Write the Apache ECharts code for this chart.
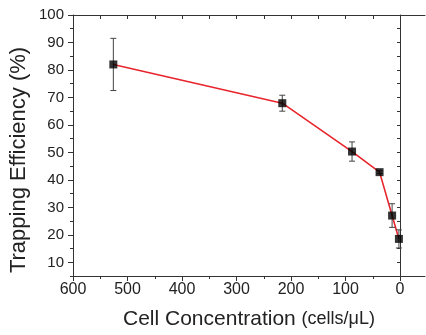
<!DOCTYPE html>
<html><head><meta charset="utf-8">
<script src="https://cdn.jsdelivr.net/npm/echarts@6/dist/echarts.min.js"></script>
<style>html,body{margin:0;padding:0;background:#fff}#c{width:426px;height:335px}</style>
</head><body><div id="c"></div>
<script>
const concentration = [526, 216, 88, 37.5, 14.5, 2];
const efficiency = [82, 67.9, 50.3, 42.8, 27, 18.5];
const errorBars = [9.5, 2.9, 3.5, 0.5, 4.3, 3.3];
const xTickLabels = [0, 100, 200, 300, 400, 500, 600];
const yTickLabels = [10, 20, 30, 40, 50, 60, 70, 80, 90, 100];

const FONT = 'Liberation Sans, Arial, sans-serif';
const AX = '#333';
const points = concentration.map((c, i) => [c, efficiency[i]]);
const errData = concentration.map((c, i) => [c, efficiency[i] - errorBars[i], efficiency[i] + errorBars[i]]);

const chart = echarts.init(document.getElementById('c'), null, {renderer: 'canvas'});
chart.setOption({
  animation: false,
  grid: [
    {left: 73, right: 26, top: 15, bottom: 59},
    {left: 73, right: 26, top: 15, bottom: 72.3},
    {left: 73, right: 1, top: 15, bottom: 59},
    {left: 73, right: 26, top: 60, bottom: 75}
  ],
  xAxis: [
    {gridIndex: 0, type: 'value', inverse: true, min: 0, max: 600, interval: 100,
     axisLine: {show: true, lineStyle: {color: AX, width: 1}},
     axisTick: {show: true, inside: false, length: 5, lineStyle: {color: AX}},
     minorTick: {show: true, splitNumber: 2, length: 3, lineStyle: {color: AX}},
     splitLine: {show: false},
     axisLabel: {show: true, margin: 6, fontFamily: FONT, fontSize: 16, color: '#222',
       formatter: v => xTickLabels.includes(v) ? String(v) : ''}},
    {gridIndex: 0, type: 'value', position: 'top', inverse: true, min: 0, max: 600, interval: 50,
     axisLine: {show: true, lineStyle: {color: AX, width: 1}},
     axisTick: {show: true, inside: true, length: 4, lineStyle: {color: AX}},
     splitLine: {show: false}, axisLabel: {show: false}},
    {gridIndex: 1, type: 'value', show: false, min: 0, max: 600},
    {gridIndex: 2, type: 'value', position: 'bottom', min: 0, max: 1,
     axisLine: {show: true, lineStyle: {color: AX, width: 1}},
     axisTick: {show: false}, splitLine: {show: false}, axisLabel: {show: false},
     name: '{a|Cell Concentration }{b|(cells/μL)}', nameLocation: 'middle', nameGap: 33,
     nameTextStyle: {rich: {
       a: {fontFamily: FONT, fontSize: 21, color: '#222'},
       b: {fontFamily: FONT, fontSize: 18, color: '#222'}}}},
    {gridIndex: 2, type: 'value', position: 'top', min: 0, max: 1,
     axisLine: {show: true, lineStyle: {color: AX, width: 1}},
     axisTick: {show: false}, splitLine: {show: false}, axisLabel: {show: false}},
    {gridIndex: 3, type: 'value', show: false, min: 0, max: 1}
  ],
  yAxis: [
    {gridIndex: 0, type: 'value', min: 5, max: 100, interval: 5,
     axisLine: {show: true, lineStyle: {color: AX, width: 1}},
     axisTick: {show: true, inside: false, length: 3, lineStyle: {color: AX}},
     splitLine: {show: false}, axisLabel: {show: false}},
    {gridIndex: 1, type: 'value', min: 10, max: 100, interval: 10,
     axisLine: {show: false},
     axisTick: {show: true, inside: false, length: 5, lineStyle: {color: AX}},
     splitLine: {show: false},
     axisLabel: {show: true, margin: 9, fontFamily: FONT, fontSize: 15, color: '#222',
       formatter: v => yTickLabels.includes(v) ? String(v) : ''}},
    {gridIndex: 2, type: 'value', position: 'right', min: 5, max: 100, interval: 5,
     axisLine: {show: true, lineStyle: {color: AX, width: 1}},
     axisTick: {show: true, inside: true, length: 3, lineStyle: {color: AX}},
     splitLine: {show: false}, axisLabel: {show: false}},
    {gridIndex: 3, type: 'value', min: 0, max: 1,
     axisLine: {show: false}, axisTick: {show: false}, splitLine: {show: false}, axisLabel: {show: false},
     name: 'Trapping Efficiency (%)', nameLocation: 'middle', nameGap: 51,
     nameTextStyle: {fontFamily: FONT, fontSize: 22, color: '#222'}}
  ],
  series: [
    {type: 'line', xAxisIndex: 0, yAxisIndex: 0, data: points,
     lineStyle: {color: '#e8242c', width: 1.6}, symbol: 'none', z: 2},
    {type: 'custom', xAxisIndex: 0, yAxisIndex: 0, data: errData, z: 3,
     renderItem: function (params, api) {
       const x = api.value(0);
       const lo = api.coord([x, api.value(1)]);
       const hi = api.coord([x, api.value(2)]);
       const w = 3;
       const st = {stroke: '#444', lineWidth: 1};
       return {type: 'group', children: [
         {type: 'line', shape: {x1: hi[0], y1: hi[1], x2: lo[0], y2: lo[1]}, style: st},
         {type: 'line', shape: {x1: hi[0] - w, y1: hi[1], x2: hi[0] + w, y2: hi[1]}, style: st},
         {type: 'line', shape: {x1: lo[0] - w, y1: lo[1], x2: lo[0] + w, y2: lo[1]}, style: st}
       ]};
     }},
    {type: 'scatter', xAxisIndex: 0, yAxisIndex: 0, data: points, symbol: 'rect', symbolSize: 8,
     itemStyle: {color: '#000'}, z: 4}
  ]
});
</script></body></html>
